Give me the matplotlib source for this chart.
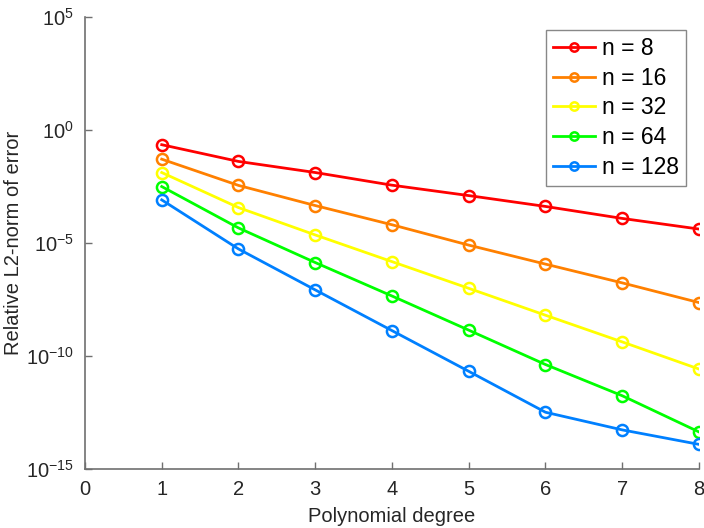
import matplotlib
matplotlib.use("Agg")
import matplotlib.pyplot as plt
import numpy as np

plt.rcParams['font.family'] = ['Liberation Sans', 'DejaVu Sans']
plt.rcParams['mathtext.fontset'] = 'custom'
plt.rcParams['mathtext.rm'] = 'Liberation Sans'

# polynomial degree and relative L2 error for each grid size
degrees = [1, 2, 3, 4, 5, 6, 7, 8]
grid_sizes = [8, 16, 32, 64, 128]
log_err_n8 = [-0.66, -1.40, -1.89, -2.45, -2.91, -3.39, -3.92, -4.39]
log_err_n16 = [-1.30, -2.46, -3.35, -4.20, -5.10, -5.94, -6.77, -7.64]
log_err_n32 = [-1.89, -3.44, -4.65, -5.83, -7.01, -8.20, -9.38, -10.58]
log_err_n64 = [-2.51, -4.34, -5.87, -7.35, -8.86, -10.38, -11.76, -13.36]
log_err_n128 = [-3.10, -5.27, -7.08, -8.88, -10.68, -12.49, -13.27, -13.91]
colors = ['#ff0000', '#ff8000', '#ffff00', '#00ff00', '#0080ff']

errors = [log_err_n8, log_err_n16, log_err_n32, log_err_n64, log_err_n128]

fig = plt.figure(figsize=(7.04, 5.28), dpi=100)
ax = fig.add_axes([0.1207, 0.1117, 0.8722, 0.8567])

for n, le, c in zip(grid_sizes, errors, colors):
    ax.semilogy(degrees, 10.0 ** np.array(le), '-o', color=c, lw=2,
                markersize=8, markerfacecolor='none', markeredgewidth=1.8,
                label=f"n = {n}")

ax.set_xlim(0, 8)
ax.set_ylim(1e-15, 1e5)
ax.set_xticks(range(0, 9))
ax.set_yticks([1e-15, 1e-10, 1e-5, 1e0, 1e5])
ax.yaxis.set_minor_locator(matplotlib.ticker.NullLocator())

axcol = '#707070'
for side in ['top', 'right']:
    ax.spines[side].set_visible(False)
for side in ['left', 'bottom']:
    ax.spines[side].set_color(axcol)
    ax.spines[side].set_linewidth(1.2)
ax.tick_params(direction='in', length=5, width=1, color=axcol,
               labelsize=14.5, labelcolor='#262626', pad=8)

ax.set_xlabel('Polynomial degree', fontsize=14.5, color='#262626', labelpad=6)
ax.set_ylabel('Relative L2-norm of error', fontsize=14.5, color='#262626', labelpad=2)

leg = ax.legend(loc='upper right', bbox_to_anchor=(0.979, 0.971), borderaxespad=0,
                fontsize=16.5, markerscale=0.75, handlelength=1.85, labelspacing=0.3,
                handletextpad=0.3, borderpad=0.3, fancybox=False, framealpha=1)
leg.get_frame().set_edgecolor('#888888')
leg.get_frame().set_linewidth(1)

fig.savefig('out.png', dpi=100)
